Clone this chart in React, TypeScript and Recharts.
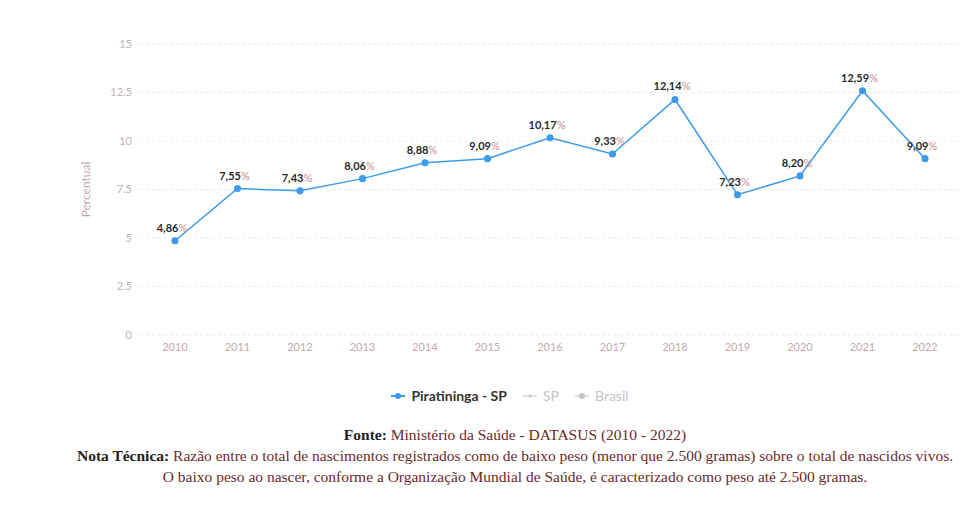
import React from 'react';
import { LineChart, Line, XAxis, YAxis, CartesianGrid, LabelList } from 'recharts';

const years = ['2010', '2011', '2012', '2013', '2014', '2015', '2016', '2017', '2018', '2019', '2020', '2021', '2022'];
const piratininga = [4.86, 7.55, 7.43, 8.06, 8.88, 9.09, 10.17, 9.33, 12.14, 7.23, 8.2, 12.59, 9.09];
const yTicks = [0, 2.5, 5, 7.5, 10, 12.5, 15];

const data = years.map((y, i) => ({ year: y, value: piratininga[i] }));

const FONT = 'Lato, "Open Sans", sans-serif';
const BLUE = '#3d9be9';

const PctLabel = (props: any) => {
  const { x, y, value } = props;
  const txt = Number(value).toFixed(2).replace('.', ',');
  return (
    <text x={x - 3} y={y - 9} textAnchor="middle" fontFamily={FONT} fontSize={11}>
      <tspan fill="#2b2b2b" fontWeight={700}>{txt}</tspan>
      <tspan fill="#c98a8a" fontWeight={400}>%</tspan>
    </text>
  );
};

const fmtTick = (v: number) => String(v);

export default function App() {
  return (
    <div style={{ position: 'absolute', left: 0, top: 0, width: 966, height: 515, background: '#fff', fontFamily: FONT }}>
      <LineChart width={966} height={380} data={data} margin={{ top: 44, right: 6, left: 0, bottom: 15 }}>
        <CartesianGrid vertical={false} stroke="#ececec" strokeDasharray="3 3" />
        <XAxis
          dataKey="year"
          axisLine={false}
          tickLine={false}
          padding={{ left: 35, right: 35 }}
          tick={{ fill: '#c4a9ae', fontSize: 11, fontFamily: FONT }}
          height={30}
        />
        <YAxis
          domain={[0, 15]}
          ticks={yTicks}
          tickFormatter={fmtTick}
          axisLine={false}
          tickLine={false}
          width={140}
          tick={{ fill: '#bfb3b5', fontSize: 11, fontFamily: FONT }}
          label={{ value: 'Percentual', angle: -90, position: 'insideLeft', offset: 86, style: { fill: '#c4a9ae', fontSize: 12, fontFamily: FONT, textAnchor: 'middle' } }}
        />
        <Line
          type="linear"
          dataKey="value"
          stroke={BLUE}
          strokeWidth={1.5}
          dot={{ r: 2.8, fill: BLUE, stroke: BLUE }}
          isAnimationActive={false}
        >
          <LabelList dataKey="value" content={PctLabel} />
        </Line>
      </LineChart>
      <div style={{ position: 'absolute', top: 387, left: 0, width: 1020, display: 'flex', justifyContent: 'center', alignItems: 'center', gap: 16, fontSize: 14, fontFamily: FONT }}>
        <span style={{ display: 'flex', alignItems: 'center', gap: 6, fontWeight: 700, color: '#333' }}>
          <svg width={14} height={8}><line x1={0} y1={4} x2={14} y2={4} stroke={BLUE} strokeWidth={2} /><circle cx={7} cy={4} r={3} fill={BLUE} /></svg>
          Piratininga - SP
        </span>
        <span style={{ display: 'flex', alignItems: 'center', gap: 6, color: '#c3c3c8' }}>
          <svg width={14} height={8}><line x1={0} y1={4} x2={14} y2={4} stroke="#c3c3c8" strokeWidth={1} /><circle cx={7} cy={4} r={1.5} fill="#c3c3c8" /></svg>
          SP
        </span>
        <span style={{ display: 'flex', alignItems: 'center', gap: 6, color: '#c3c3c8' }}>
          <svg width={14} height={8}><line x1={0} y1={4} x2={14} y2={4} stroke="#c3c3c8" strokeWidth={1} /><circle cx={7} cy={4} r={3} fill="#c3c3c8" /></svg>
          Brasil
        </span>
      </div>
      <div style={{ position: 'absolute', top: 424, left: 0, width: 1030, textAlign: 'center', fontFamily: '"Liberation Serif", "DejaVu Serif", serif', fontSize: 15.5, lineHeight: '21px', color: '#6b2a2a' }}>
        <div><b style={{ color: '#222' }}>Fonte:</b> Ministério da Saúde - DATASUS (2010 - 2022)</div>
        <div style={{ whiteSpace: 'nowrap' }}><b style={{ color: '#222' }}>Nota Técnica:</b> Razão entre o total de nascimentos registrados como de baixo peso (menor que 2.500 gramas) sobre o total de nascidos vivos.</div>
        <div>O baixo peso ao nascer, conforme a Organização Mundial de Saúde, é caracterizado como peso até 2.500 gramas.</div>
      </div>
    </div>
  );
}
